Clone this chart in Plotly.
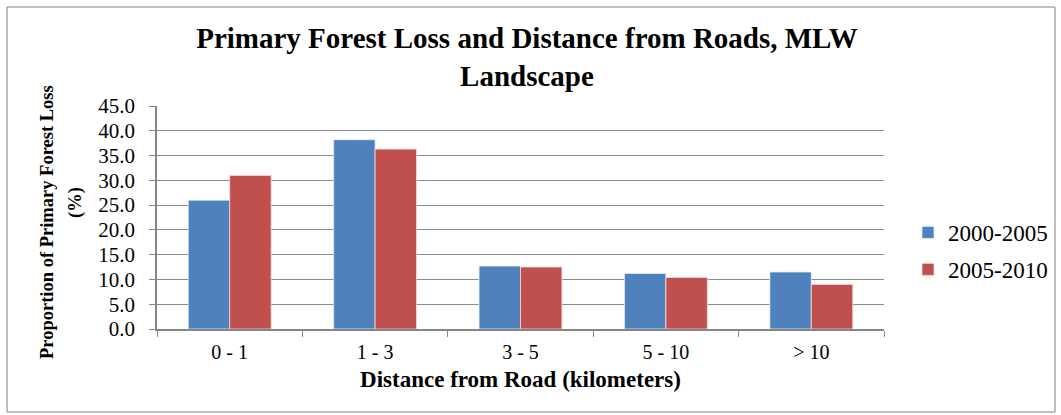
import plotly.graph_objects as go

categories = ["0 - 1", "1 - 3", "3 - 5", "5 - 10", "> 10"]
series_names = ["2000-2005", "2005-2010"]
values_2000_2005 = [26.0, 38.2, 12.7, 11.2, 11.5]
values_2005_2010 = [31.0, 36.3, 12.5, 10.4, 9.0]
y_tick_values = [0, 5, 10, 15, 20, 25, 30, 35, 40, 45]
y_tick_labels = ["0.0", "5.0", "10.0", "15.0", "20.0", "25.0", "30.0", "35.0", "40.0", "45.0"]

W, H = 1061, 415
L, R, T, B = 157, 177, 106, 86
pw, ph = W - L - R, H - T - B

def px_x(p):
    return (p - L) / pw

def px_y(p):
    return (H - B - p) / ph

serif = "Liberation Serif"

fig = go.Figure()
fig.add_trace(go.Bar(x=categories, y=values_2000_2005, name=series_names[0], legendgroup="a",
                     marker=dict(color="#4F81BD", line=dict(color="#E6ECF5", width=0.8))))
fig.add_trace(go.Bar(x=categories, y=values_2005_2010, name=series_names[1], legendgroup="b",
                     marker=dict(color="#C0504D", line=dict(color="#F2DCDB", width=0.8))))

fig.update_layout(
    width=W, height=H,
    margin=dict(l=L, r=R, t=T, b=B, autoexpand=False),
    paper_bgcolor="white", plot_bgcolor="white",
    barmode="group", bargap=0.43, bargroupgap=0,
    font=dict(family=serif, color="black"),
    title=dict(text="<b>Primary Forest Loss and Distance from Roads, MLW<br>Landscape</b>",
               x=px_x(527), xref="paper", xanchor="center",
               y=1 - 48 / H, yanchor="middle",
               font=dict(size=29, family=serif, color="black")),
    legend=dict(x=px_x(908), xanchor="left", y=px_y(251), yanchor="middle",
                font=dict(size=23, family=serif, color="black"),
                bgcolor="rgba(0,0,0,0)", itemwidth=30, tracegroupgap=4),
    xaxis=dict(
        showline=True, linecolor="#868686", linewidth=1.5,
        ticks="outside", tickson="boundaries", ticklen=6, tickcolor="#868686",
        tickfont=dict(size=20, family=serif), ticklabelstandoff=4,
        title=dict(text="<b>Distance from Road (kilometers)</b>",
                   font=dict(size=23, family=serif), standoff=9),
    ),
    yaxis=dict(
        range=[0, 45], tickvals=y_tick_values, ticktext=y_tick_labels,
        showgrid=True, gridcolor="#8C8C8C", gridwidth=1,
        showline=True, linecolor="#868686", linewidth=1.5,
        ticks="outside", ticklen=6, tickcolor="#868686",
        tickfont=dict(size=21, family=serif), ticklabelstandoff=10,
        zeroline=False,
    ),
    annotations=[
        dict(text="<b>Proportion of Primary Forest Loss</b>", textangle=-90,
             xref="paper", yref="paper", x=px_x(47), y=px_y(222),
             xanchor="center", yanchor="middle", showarrow=False,
             font=dict(size=18.5, family=serif, color="black")),
        dict(text="<b>(%)</b>", textangle=-90,
             xref="paper", yref="paper", x=px_x(75), y=px_y(203),
             xanchor="center", yanchor="middle", showarrow=False,
             font=dict(size=18.5, family=serif, color="black")),
    ],
    shapes=[dict(type="rect", xref="paper", yref="paper",
                 x0=px_x(7), x1=px_x(1055), y0=px_y(412), y1=px_y(7),
                 line=dict(color="#808080", width=1), fillcolor="rgba(0,0,0,0)",
                 layer="below")],
)

fig.write_html("out.html", config={"displayModeBar": False},
               post_script="document.body.style.margin='0';document.body.style.overflow='hidden';")
